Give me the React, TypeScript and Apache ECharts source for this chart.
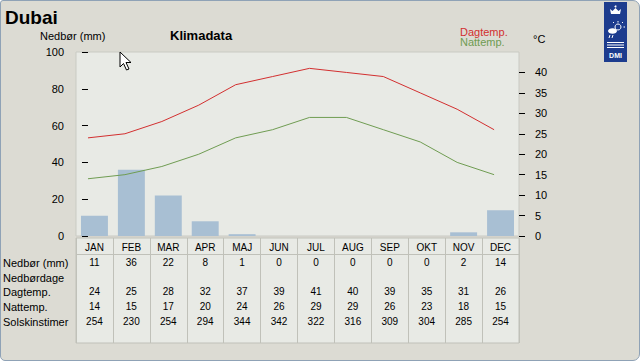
import React, { useEffect, useRef } from "react";
import * as echarts from "echarts";

const months = ["JAN", "FEB", "MAR", "APR", "MAJ", "JUN", "JUL", "AUG", "SEP", "OKT", "NOV", "DEC"];
const precip = [11, 36, 22, 8, 1, 0, 0, 0, 0, 0, 2, 14];
const dayTemp = [24, 25, 28, 32, 37, 39, 41, 40, 39, 35, 31, 26];
const nightTemp = [14, 15, 17, 20, 24, 26, 29, 29, 26, 23, 18, 15];
const sunHours = [254, 230, 254, 294, 344, 342, 322, 316, 309, 304, 285, 254];
const rowLabels = ["Nedbør (mm)", "Nedbørdage", "Dagtemp.", "Nattemp.", "Solskinstimer"];
const rightTicks = [0, 5, 10, 15, 20, 25, 30, 35, 40];

const FONT = "Liberation Sans";
const PLOT_BG = "#e8eae5";
const PANEL_BG = "#dcdbd3";
const LINE_C = "#c0c1b9";

export default function App() {
  const ref = useRef<HTMLDivElement>(null);
  useEffect(() => {
    if (!ref.current) return;
    const chart = echarts.init(ref.current, null, { renderer: "svg" });

    const rowAxis = (data: string[], margin: number) => ({
      type: "category",
      gridIndex: 0,
      position: "bottom",
      data,
      axisLine: { show: false },
      axisTick: { show: false },
      splitLine: { show: false },
      axisLabel: { interval: 0, margin, fontFamily: FONT, fontSize: 10, color: "#000" },
    });

    const rowY = [263, 278, 292, 307, 322];

    const option: any = {
      animation: false,
      backgroundColor: "transparent",
      grid: [
        { left: 76, top: 52, width: 443, height: 184, show: true, backgroundColor: PLOT_BG, borderColor: "#c9cac3", borderWidth: 1 },
        { left: 76, top: 238, width: 443, height: 105, show: true, backgroundColor: PLOT_BG, borderColor: LINE_C, borderWidth: 1 },
      ],
      xAxis: [
        rowAxis(months, 6),
        rowAxis(precip.map(String), 21),
        rowAxis(dayTemp.map(String), 50),
        rowAxis(nightTemp.map(String), 65),
        rowAxis(sunHours.map(String), 80),
        { type: "value", gridIndex: 0, min: -0.325, max: 11.675, show: false },
        {
          type: "category",
          gridIndex: 1,
          data: months,
          axisLine: { show: false },
          axisTick: { show: false },
          axisLabel: { show: false },
          splitLine: { show: true, lineStyle: { color: LINE_C, width: 1 } },
        },
      ],
      yAxis: [
        {
          type: "value",
          gridIndex: 0,
          min: 0,
          max: 100,
          interval: 20,
          axisLine: { show: false },
          axisTick: { show: true, length: 6, lineStyle: { color: "#000" } },
          splitLine: { show: false },
          axisLabel: { margin: 12, fontFamily: FONT, fontSize: 11, color: "#000" },
        },
        {
          type: "value",
          gridIndex: 0,
          position: "right",
          min: 0,
          max: 45,
          interval: 5,
          axisLine: { show: false },
          axisTick: { show: true, length: 6, lineStyle: { color: "#000" }, customValues: rightTicks },
          splitLine: { show: false },
          axisLabel: { margin: 16, fontFamily: FONT, fontSize: 11, color: "#000", customValues: rightTicks },
        },
        { type: "value", gridIndex: 1, show: false, min: 0, max: 1 },
      ],
      series: [
        {
          type: "bar",
          xAxisIndex: 0,
          yAxisIndex: 0,
          data: precip,
          barWidth: "73%",
          itemStyle: { color: "#a8bfd3" },
        },
        {
          type: "line",
          xAxisIndex: 5,
          yAxisIndex: 1,
          data: dayTemp.map((v, i) => [i, v]),
          symbol: "none",
          lineStyle: { color: "#d22f2f", width: 1 },
        },
        {
          type: "line",
          xAxisIndex: 5,
          yAxisIndex: 1,
          data: nightTemp.map((v, i) => [i, v]),
          symbol: "none",
          lineStyle: { color: "#6f9c52", width: 1 },
        },
      ],
      graphic: [
        { type: "line", shape: { x1: 76, y1: 254.5, x2: 519, y2: 254.5 }, style: { stroke: LINE_C, lineWidth: 1 }, z: 10 },
        { type: "text", left: 5, top: 8, style: { text: "Dubai", font: `bold 19px "${FONT}"`, fill: "#000" } },
        { type: "text", left: 40, top: 30, style: { text: "Nedbør (mm)", font: `11px "${FONT}"`, fill: "#000" } },
        { type: "text", left: 170, top: 28.5, style: { text: "Klimadata", font: `bold 13px "${FONT}"`, fill: "#000" } },
        { type: "text", left: 460, top: 26, style: { text: "Dagtemp.", font: `11px "${FONT}"`, lineHeight: 10, fill: "#d22f2f" } },
        { type: "text", left: 460, top: 36.5, style: { text: "Nattemp.", font: `11px "${FONT}"`, lineHeight: 10, fill: "#6f9c52" } },
        { type: "text", left: 533, top: 33, style: { text: "°C", font: `11px "${FONT}"`, fill: "#000" } },
        ...rowLabels.map((t, i) => ({
          type: "text",
          x: 3,
          y: rowY[i] - 0.5,
          style: { text: t, font: `11px "${FONT}"`, fill: "#000", textVerticalAlign: "middle" },
        })),
        // DMI logo
        {
          type: "group",
          children: [
            { type: "rect", shape: { x: 604, y: 2, width: 23, height: 60 }, style: { fill: "#1d3c8e" } },
            { type: "polygon", shape: { points: [[611, 14], [620, 14], [621, 9], [618.5, 11], [615.5, 8], [612.5, 11], [610, 9]] }, style: { fill: "#fff" } },
            { type: "circle", shape: { cx: 615.5, cy: 6.5, r: 1 }, style: { fill: "#fff" } },
            { type: "circle", shape: { cx: 618, cy: 27, r: 3 }, style: { fill: "none", stroke: "#fff", lineWidth: 1 } },
            { type: "line", shape: { x1: 618, y1: 21, x2: 618, y2: 22.5 }, style: { stroke: "#fff", lineWidth: 1 } },
            { type: "line", shape: { x1: 622, y1: 23, x2: 623, y2: 22 }, style: { stroke: "#fff", lineWidth: 1 } },
            { type: "line", shape: { x1: 623.5, y1: 27, x2: 625, y2: 27 }, style: { stroke: "#fff", lineWidth: 1 } },
            { type: "line", shape: { x1: 614, y1: 23, x2: 613, y2: 22 }, style: { stroke: "#fff", lineWidth: 1 } },
            { type: "ellipse", shape: { cx: 612.5, cy: 31, rx: 4.5, ry: 2.8 }, style: { fill: "#fff" } },
            { type: "line", shape: { x1: 610, y1: 35, x2: 609, y2: 38 }, style: { stroke: "#fff", lineWidth: 1 } },
            { type: "line", shape: { x1: 613, y1: 35, x2: 612, y2: 38 }, style: { stroke: "#fff", lineWidth: 1 } },
            { type: "line", shape: { x1: 607, y1: 42.5, x2: 624, y2: 42.5 }, style: { stroke: "#fff", lineWidth: 1 } },
            { type: "line", shape: { x1: 607, y1: 45, x2: 624, y2: 45 }, style: { stroke: "#fff", lineWidth: 1 } },
            { type: "line", shape: { x1: 607, y1: 47.5, x2: 624, y2: 47.5 }, style: { stroke: "#fff", lineWidth: 1 } },
            { type: "text", x: 615.5, y: 55, style: { text: "DMI", font: `bold 7px "${FONT}"`, fill: "#fff", textAlign: "center", textVerticalAlign: "middle" } },
          ],
        },
        // mouse cursor
        {
          type: "polygon",
          z: 100,
          shape: {
            points: [[120, 52], [120, 67], [123.5, 63.5], [126.5, 70], [129, 69], [126, 62.5], [131, 62.5]],
          },
          style: { fill: "#fff", stroke: "#000", lineWidth: 1 },
        },
      ],
    };
    chart.setOption(option);
    return () => chart.dispose();
  }, []);

  return (
    <div
      style={{
        position: "fixed",
        left: 0,
        top: 0,
        width: 640,
        height: 362,
        background: "#fff",
      }}
    >
      <div
        style={{
          position: "absolute",
          left: 0,
          top: 0,
          width: 638,
          height: 359,
          background: PANEL_BG,
          border: "1px solid #8fa2b6",
          borderRadius: "3px 7px 7px 5px",
        }}
      />
      <div ref={ref} style={{ position: "absolute", left: 0, top: 0, width: 640, height: 362 }} />
    </div>
  );
}
